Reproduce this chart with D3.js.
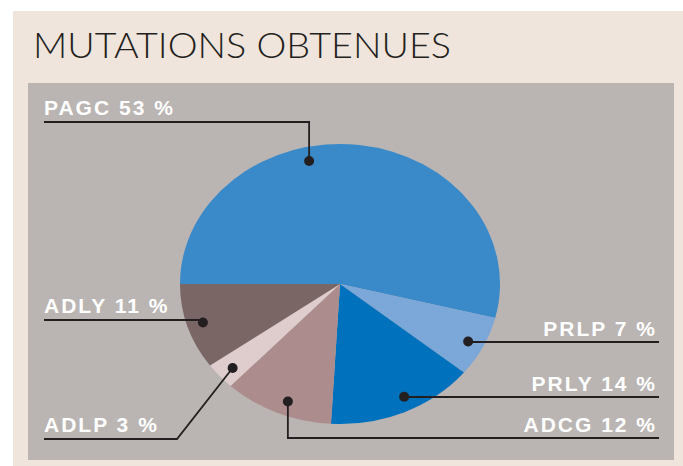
<!DOCTYPE html>
<html>
<head>
<meta charset="utf-8">
<script src="https://cdn.jsdelivr.net/npm/d3@7"></script>
<style>
  body { margin: 0; background: #fff; }
</style>
</head>
<body>
<div id="vis"></div>
<script>
// data
var categories = ['PAGC', 'PRLP', 'PRLY', 'ADCG', 'ADLP', 'ADLY'];
var labelPercents = [53, 7, 14, 12, 3, 11];
// slice sizes as drawn in the picture (%)
var sliceValues = [53.9, 7.0, 15.0, 11.1, 3.1, 9.9];
var colors = ['#3a8ac9', '#7ba7d9', '#0071bc', '#ac8c8c', '#dfcdcd', '#7b6666'];

var width = 683,
    height = 466,
    cx = 340,
    cy = 284,
    radius = 160,
    squash = 0.875;

// where each leader dot sits inside its slice (fraction of the angle span)
var anchorT = [0.40, 0.52, 0.45, 0.45, 0.45, 0.5];
// label layout: side, text baseline, leader line y, elbow x (null = under the dot)
var labelLayout = [
  { side: 'left',  ty: 115, ly: 122, elbow: null },
  { side: 'right', ty: 336, ly: 342, elbow: null },
  { side: 'right', ty: 391, ly: 397, elbow: null },
  { side: 'right', ty: 432, ly: 438, elbow: null },
  { side: 'left',  ty: 432, ly: 439, elbow: 177 },
  { side: 'left',  ty: 313, ly: 320, elbow: null }
];

var svg = d3.select('#vis')
  .append('svg')
    .attr('width', width)
    .attr('height', height);

svg.append('rect')
  .attr('x', 13).attr('y', 11)
  .attr('width', width - 13).attr('height', height - 11)
  .style('fill', '#efe5dc');

svg.append('rect')
  .attr('x', 28).attr('y', 83)
  .attr('width', 646).attr('height', 377)
  .style('fill', '#bab5b2');

svg.append('text')
  .attr('x', 33).attr('y', 58)
  .attr('textLength', 418)
  .attr('lengthAdjust', 'spacingAndGlyphs')
  .style('font-family', 'Lato, "Open Sans", sans-serif')
  .style('font-weight', 300)
  .style('font-size', '35px')
  .style('fill', '#231f20')
  .text('MUTATIONS OBTENUES');

var pie = d3.pie()
  .sort(null)
  .startAngle(-Math.PI / 2)
  .endAngle(Math.PI * 1.5)
  .value(function(d) { return d; });

var arcs = pie(sliceValues);

var arc = d3.arc()
  .innerRadius(0)
  .outerRadius(radius);

svg.append('g')
    .attr('transform', 'translate(' + cx + ',' + cy + ') scale(1,' + squash + ')')
  .selectAll('path')
  .data(arcs)
  .enter()
  .append('path')
    .attr('d', arc)
    .style('fill', function(d, i) { return colors[i]; });

function anchor(d, i) {
  var a = d.startAngle + anchorT[i] * (d.endAngle - d.startAngle);
  var r = radius * 0.9;
  return [cx + r * Math.sin(a), cy - r * Math.cos(a) * squash];
}

var leaders = svg.append('g');

arcs.forEach(function(d, i) {
  var p = anchor(d, i);
  var lay = labelLayout[i];
  var ex = lay.elbow === null ? p[0] : lay.elbow;
  var x0 = lay.side === 'left' ? 44 : 659;
  var pts = [[x0, lay.ly], [ex, lay.ly], p];

  leaders.append('path')
    .attr('d', d3.line()(pts))
    .style('fill', 'none')
    .style('stroke', '#231f20')
    .style('stroke-width', 1.8);

  leaders.append('circle')
    .attr('cx', p[0]).attr('cy', p[1])
    .attr('r', 5)
    .style('fill', '#231f20');

  leaders.append('text')
    .attr('x', lay.side === 'left' ? 44 : 657)
    .attr('y', lay.ty)
    .attr('text-anchor', lay.side === 'left' ? 'start' : 'end')
    .style('font-family', '"Liberation Sans", Arial, sans-serif')
    .style('font-weight', 'bold')
    .style('font-size', '21px')
    .style('letter-spacing', '2px')
    .style('fill', '#ffffff')
    .text(categories[i] + ' ' + labelPercents[i] + ' %');
});
</script>
</body>
</html>
